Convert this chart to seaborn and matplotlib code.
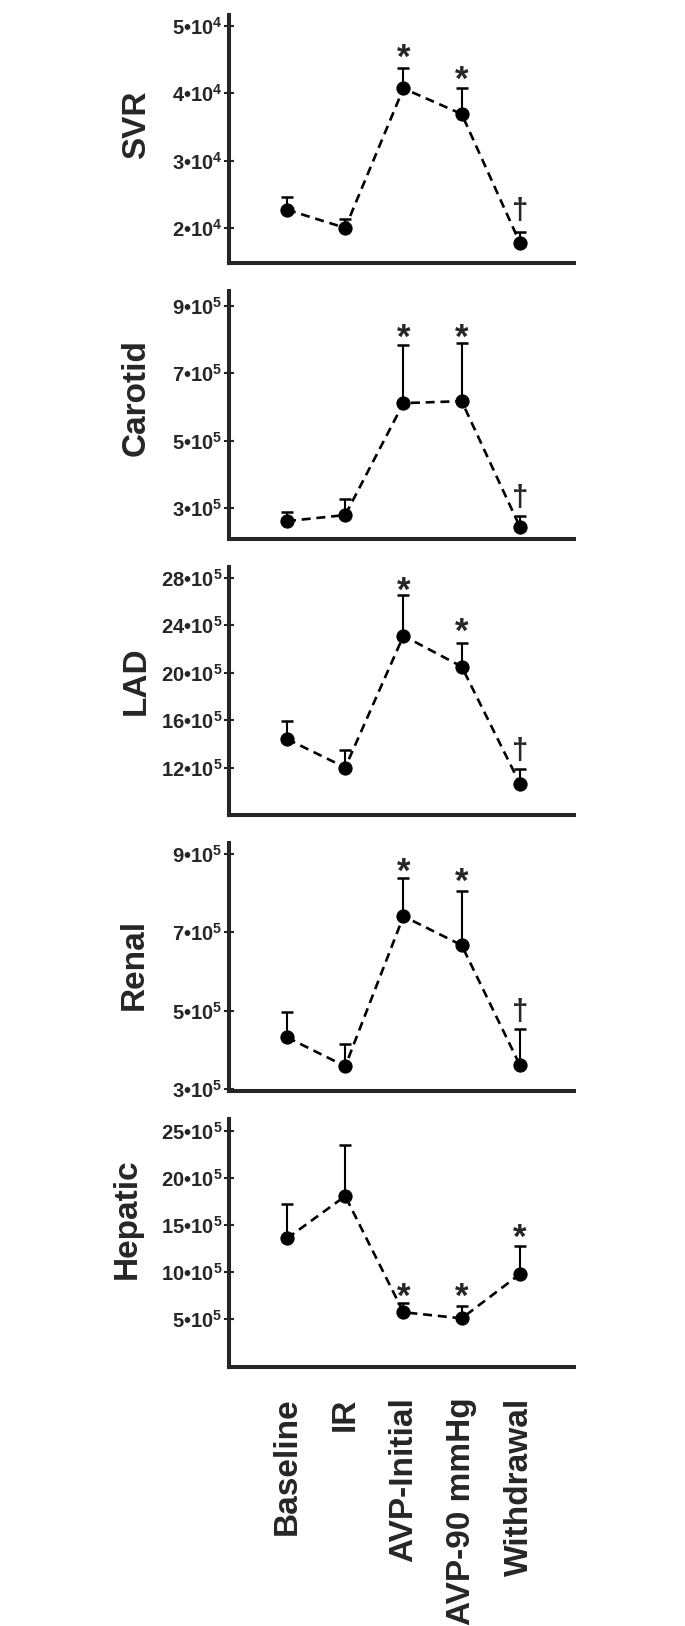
import numpy as np
import matplotlib
matplotlib.use('Agg')
from matplotlib import pyplot as plt
import seaborn as sns

conditions = ['Baseline', 'IR', 'AVP-Initial', 'AVP-90 mmHg', 'Withdrawal']
panels = ['SVR', 'Carotid', 'LAD', 'Renal', 'Hepatic']

# means and top of the (upper-only) error bars
svr_mean = [2.27e4, 2.00e4, 4.07e4, 3.69e4, 1.78e4]
svr_top = [2.46e4, 2.13e4, 4.37e4, 4.07e4, 1.94e4]
carotid_mean = [2.61e5, 2.79e5, 6.11e5, 6.17e5, 2.44e5]
carotid_top = [2.88e5, 3.27e5, 7.83e5, 7.89e5, 2.76e5]
lad_mean = [14.4e5, 12.0e5, 23.1e5, 20.5e5, 10.65e5]
lad_top = [15.95e5, 13.5e5, 26.5e5, 22.5e5, 11.9e5]
renal_mean = [4.32e5, 3.58e5, 7.41e5, 6.67e5, 3.61e5]
renal_top = [4.97e5, 4.14e5, 8.39e5, 8.06e5, 4.54e5]
hepatic_mean = [13.6e5, 18.1e5, 5.75e5, 5.1e5, 9.8e5]
hepatic_top = [17.3e5, 23.5e5, 6.7e5, 6.4e5, 12.8e5]

# significance marks: (condition index, symbol, y)
svr_marks = [(2, '*', 4.58e4), (3, '*', 4.25e4), (4, '†', 2.27e4)]
carotid_marks = [(2, '*', 8.16e5), (3, '*', 8.16e5), (4, '†', 3.33e5)]
lad_marks = [(2, '*', 27.2e5), (3, '*', 23.8e5), (4, '†', 13.5e5)]
renal_marks = [(2, '*', 8.65e5), (3, '*', 8.39e5), (4, '†', 5.0e5)]
hepatic_marks = [(2, '*', 7.85e5), (3, '*', 7.75e5), (4, '*', 14.1e5)]

svr_ticks = [2e4, 3e4, 4e4, 5e4]
svr_ticklabels = ['2•10$^4$', '3•10$^4$', '4•10$^4$', '5•10$^4$']
carotid_ticks = [3e5, 5e5, 7e5, 9e5]
carotid_ticklabels = ['3•10$^5$', '5•10$^5$', '7•10$^5$', '9•10$^5$']
lad_ticks = [12e5, 16e5, 20e5, 24e5, 28e5]
lad_ticklabels = ['12•10$^5$', '16•10$^5$', '20•10$^5$', '24•10$^5$', '28•10$^5$']
renal_ticks = [3e5, 5e5, 7e5, 9e5]
renal_ticklabels = ['3•10$^5$', '5•10$^5$', '7•10$^5$', '9•10$^5$']
hepatic_ticks = [5e5, 10e5, 15e5, 20e5, 25e5]
hepatic_ticklabels = ['5•10$^5$', '10•10$^5$', '15•10$^5$', '20•10$^5$', '25•10$^5$']

means = [svr_mean, carotid_mean, lad_mean, renal_mean, hepatic_mean]
tops = [svr_top, carotid_top, lad_top, renal_top, hepatic_top]
marks = [svr_marks, carotid_marks, lad_marks, renal_marks, hepatic_marks]
ticks = [svr_ticks, carotid_ticks, lad_ticks, renal_ticks, hepatic_ticks]
ticklabels = [svr_ticklabels, carotid_ticklabels, lad_ticklabels, renal_ticklabels, hepatic_ticklabels]

ylims = [(1.48e4, 5.16e4), (2.08e5, 9.44e5), (8.0e5, 28.9e5), (2.95e5, 9.28e5), (-0.07e5, 26.3e5)]
label_pos = [(-0.267, 0.557), (-0.267, 0.570), (-0.267, 0.540), (-0.275, 0.512), (-0.293, 0.598)]


if __name__ == '__main__':
    sns.set_style('ticks')
    plt.rcParams['font.family'] = ['Liberation Sans', 'DejaVu Sans']
    plt.rcParams['font.weight'] = 'bold'
    plt.rcParams['mathtext.fontset'] = 'custom'
    plt.rcParams['mathtext.rm'] = 'Liberation Sans'
    plt.rcParams['mathtext.default'] = 'rm'

    fig, axes = plt.subplots(5, 1, figsize=(6.85, 16.26), dpi=100)
    plt.subplots_adjust(left=0.334, right=0.838, top=0.9908, bottom=0.1593, hspace=0.113)

    x = np.arange(len(conditions))
    for i, ax in enumerate(axes):
        m = np.array(means[i])
        up = np.array(tops[i]) - m
        ax.errorbar(x, m, yerr=[np.zeros_like(up), up], fmt='none', ecolor='black',
                    elinewidth=1.5, capsize=4.5, capthick=1.8, zorder=2)
        sns.lineplot(x=x, y=m, ax=ax, color='black', linestyle='--', linewidth=1.9,
                     marker='o', markersize=9.5, markeredgecolor='black', zorder=3)
        ax.lines[-1].set_dashes((3.4, 2.2))

        for j, sym, yv in marks[i]:
            if sym == '*':
                ax.annotate(sym, xy=(j, yv), xytext=(0, -10), textcoords='offset points',
                            ha='center', va='baseline', fontsize=25, fontweight='bold')
            else:
                ax.annotate(sym, xy=(j, yv), xytext=(0, -6.5), textcoords='offset points',
                            ha='center', va='baseline', fontsize=21, fontweight='bold')

        ax.set_xlim(-1.0, 4.93)
        ax.set_ylim(*ylims[i])
        ax.set_yticks(ticks[i])
        ax.set_yticklabels(ticklabels[i], fontsize=14.5, fontweight='bold')
        ax.tick_params(axis='y', direction='inout', length=7, width=1.5, pad=1)
        ax.set_xticks(x)
        if i == 4:
            ax.set_xticklabels(conditions, rotation=90, fontsize=24, fontweight='bold',
                               va='top', ha='center')
            ax.tick_params(axis='x', length=0, pad=22)
        else:
            ax.set_xticklabels([])
            ax.tick_params(axis='x', length=0)
        for side in ['top', 'right']:
            ax.spines[side].set_visible(False)
        for side in ['left', 'bottom']:
            ax.spines[side].set_linewidth(2.9)
            ax.spines[side].set_capstyle('projecting')
        ax.set_ylabel(panels[i], fontsize=24, fontweight='bold', va='center')
        ax.yaxis.set_label_coords(*label_pos[i])

    plt.savefig('out.png', dpi=100)
